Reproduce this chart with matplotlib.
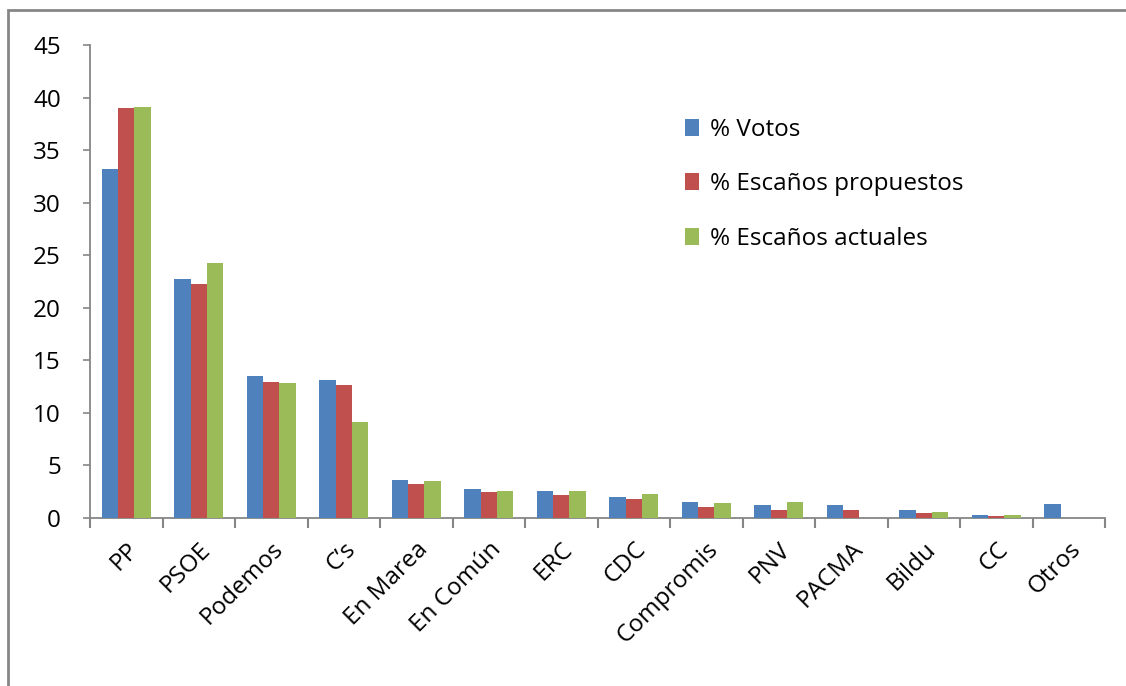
import numpy as np
import matplotlib.pyplot as plt
from matplotlib.patches import Rectangle

plt.rcParams['font.family'] = ['Open Sans', 'DejaVu Sans']

partidos = ["PP", "PSOE", "Podemos", "C\u2019s", "En Marea", "En Com\u00fan", "ERC",
            "CDC", "Compromis", "PNV", "PACMA", "Bildu", "CC", "Otros"]
votos = [33.2, 22.7, 13.5, 13.1, 3.6, 2.8, 2.6, 2.0, 1.5, 1.2, 1.2, 0.75, 0.3, 1.35]
escanos_prop = [39.0, 22.3, 12.9, 12.7, 3.2, 2.5, 2.2, 1.8, 1.0, 0.8, 0.8, 0.45, 0.2, 0.0]
escanos_act = [39.1, 24.3, 12.8, 9.1, 3.5, 2.6, 2.6, 2.3, 1.45, 1.5, 0.0, 0.6, 0.3, 0.0]

series = [
    ("% Votos", votos, "#4F81BD"),
    ("% Esca\u00f1os propuestos", escanos_prop, "#C0504D"),
    ("% Esca\u00f1os actuales", escanos_act, "#9BBB59"),
]

fig = plt.figure(figsize=(11.26, 6.86), dpi=100)
ax = fig.add_axes([90 / 1126, 1 - 518 / 686, (1105 - 90) / 1126, (518 - 45) / 686])

x = np.arange(len(partidos))
w = 0.225
for i, (name, vals, col) in enumerate(series):
    ax.bar(x + (i - 1) * w, vals, w, color=col, label=name,
           edgecolor="none", zorder=3)

grey = "#868686"
ax.set_xlim(-0.5, len(partidos) - 0.5)
ax.set_ylim(0, 45)
ax.set_yticks(range(0, 46, 5))
ax.tick_params(axis="y", labelsize=17.5, length=5, width=1.2, color=grey, pad=16)
ax.set_xticks(np.arange(len(partidos) + 1) - 0.5, minor=True)
ax.set_xticks(x)
ax.set_xticklabels(partidos, rotation=45, ha="right", rotation_mode="anchor", fontsize=17.5)
ax.tick_params(axis="x", which="major", length=0, pad=14)
ax.tick_params(axis="x", which="minor", length=7, width=1.5, color=grey)
for s in ["top", "right"]:
    ax.spines[s].set_visible(False)
for s in ["left", "bottom"]:
    ax.spines[s].set_color(grey)
    ax.spines[s].set_linewidth(1.3)

ax.legend(loc="upper left", bbox_to_anchor=(0.565, 0.892), frameon=False, fontsize=17.5,
          handlelength=0.55, handleheight=0.7, handletextpad=0.45, labelspacing=1.25)

fig.patches.append(Rectangle((8 / 1126, -0.1), 1.2, 1 - 10 / 686 + 0.1,
                             transform=fig.transFigure, fill=False,
                             edgecolor=grey, linewidth=2))

fig.savefig("out.png", dpi=100)
